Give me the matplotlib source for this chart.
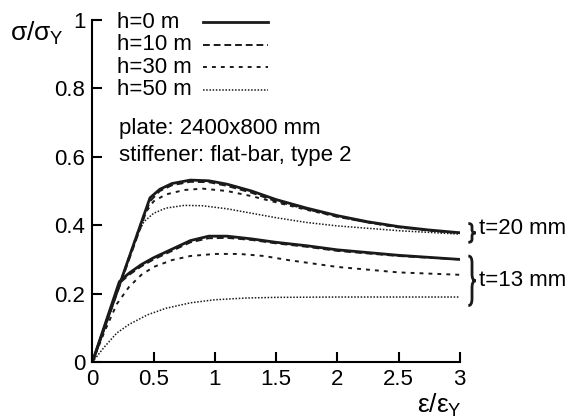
import matplotlib
matplotlib.use('Agg')
import matplotlib.pyplot as plt
from matplotlib.path import Path
from matplotlib.patches import PathPatch
from matplotlib.ticker import FormatStrFormatter

plt.rcParams['font.family'] = ['Liberation Sans', 'DejaVu Sans']
plt.rcParams['mathtext.fontset'] = 'custom'
plt.rcParams['mathtext.rm'] = 'Liberation Sans'
plt.rcParams['mathtext.it'] = 'Liberation Sans'

# ============================================================
# DATA
# ============================================================

labels = ['h=0 m', 'h=10 m', 'h=30 m', 'h=50 m']

# t = 20 mm
t20_h0_x = [0, 0.47, 0.55, 0.65, 0.8, 0.95, 1.1, 1.3, 1.5, 1.75, 2.0, 2.25, 2.5, 2.75, 3.0]
t20_h0_y = [0, 0.48, 0.505, 0.522, 0.532, 0.53, 0.52, 0.50, 0.475, 0.45, 0.428, 0.41, 0.396, 0.386, 0.378]
t20_h10_x = t20_h0_x
t20_h10_y = [0, 0.47, 0.50, 0.517, 0.527, 0.526, 0.515, 0.495, 0.47, 0.447, 0.425, 0.408, 0.394, 0.385, 0.378]
t20_h30_x = [0, 0.42, 0.5, 0.6, 0.75, 0.9, 1.1, 1.3, 1.5, 1.75, 2.0, 2.25, 2.5, 2.75, 3.0]
t20_h30_y = [0, 0.43, 0.47, 0.49, 0.503, 0.507, 0.50, 0.485, 0.467, 0.445, 0.425, 0.408, 0.394, 0.384, 0.377]
t20_h50_x = [0, 0.35, 0.42, 0.5, 0.6, 0.75, 0.9, 1.1, 1.3, 1.5, 1.75, 2.0, 2.5, 3.0]
t20_h50_y = [0, 0.36, 0.41, 0.435, 0.45, 0.458, 0.457, 0.448, 0.435, 0.422, 0.408, 0.398, 0.384, 0.374]

# t = 13 mm
t13_h0_x = [0, 0.22, 0.3, 0.4, 0.5, 0.65, 0.8, 0.95, 1.1, 1.3, 1.5, 1.75, 2.0, 2.5, 3.0]
t13_h0_y = [0, 0.235, 0.26, 0.285, 0.305, 0.33, 0.355, 0.368, 0.368, 0.36, 0.35, 0.34, 0.328, 0.312, 0.30]
t13_h10_x = t13_h0_x
t13_h10_y = [0, 0.23, 0.255, 0.28, 0.30, 0.325, 0.35, 0.362, 0.363, 0.357, 0.347, 0.337, 0.325, 0.31, 0.30]
t13_h30_x = [0, 0.1, 0.2, 0.3, 0.4, 0.5, 0.65, 0.8, 1.0, 1.2, 1.4, 1.6, 2.0, 2.5, 3.0]
t13_h30_y = [0, 0.09, 0.17, 0.22, 0.255, 0.278, 0.298, 0.31, 0.316, 0.316, 0.31, 0.298, 0.278, 0.262, 0.255]
t13_h50_x = [0, 0.1, 0.2, 0.3, 0.45, 0.6, 0.8, 1.0, 1.25, 1.5, 2.0, 2.5, 3.0]
t13_h50_y = [0, 0.045, 0.085, 0.11, 0.138, 0.157, 0.173, 0.182, 0.187, 0.189, 0.19, 0.19, 0.19]

xticks = [0, 0.5, 1, 1.5, 2, 2.5, 3]
yticks = [0, 0.2, 0.4, 0.6, 0.8, 1]

# bracket spans (y range) for each thickness group
t20_span = (0.35, 0.405)
t13_span = (0.165, 0.31)

# ============================================================
# PLOT
# ============================================================

col = '#1a1a1a'
fs = 16
styles = [
    dict(ls='-', lw=2.0),
    dict(ls=(0, (3.5, 2)), lw=1.4),
    dict(ls=(0, (2, 2.6)), lw=1.4),
    dict(ls=(0, (1, 1.1)), lw=1.1),
]

fig = plt.figure(figsize=(5.74, 4.18), dpi=100)
ax = fig.add_axes([0.161, 0.134, 0.640, 0.818])

t20 = [(t20_h0_x, t20_h0_y), (t20_h10_x, t20_h10_y), (t20_h30_x, t20_h30_y), (t20_h50_x, t20_h50_y)]
t13 = [(t13_h0_x, t13_h0_y), (t13_h10_x, t13_h10_y), (t13_h30_x, t13_h30_y), (t13_h50_x, t13_h50_y)]

for (x, y), st in zip(t20, styles):
    ax.plot(x, y, color=col, **st)
for (x, y), st in zip(t13, styles):
    ax.plot(x, y, color=col, **st)

ax.set_xlim(0, 3)
ax.set_ylim(0, 1)
ax.set_xticks(xticks)
ax.set_yticks(yticks)
ax.xaxis.set_major_formatter(FormatStrFormatter('%g'))
ax.yaxis.set_major_formatter(FormatStrFormatter('%g'))
ax.tick_params(direction='in', length=7, width=1.5, labelsize=fs, pad=5)
for s in ['top', 'right']:
    ax.spines[s].set_visible(False)
for s in ['left', 'bottom']:
    ax.spines[s].set_linewidth(1.5)

# legend: label first, sample line after it, all lines ending at the same x
fig.canvas.draw()
rend = fig.canvas.get_renderer()
inv = ax.transAxes.inverted()
row_y = 0.994
for lab, st in zip(labels, styles):
    t = ax.text(0.068, row_y, lab, fontsize=fs, va='center', transform=ax.transAxes)
    x_end_text = inv.transform(t.get_window_extent(rend))[1][0]
    x_start = max(x_end_text + 0.012, 0.3)
    ax.plot([x_start, 0.478], [row_y, row_y], color=col,
            transform=ax.transAxes, clip_on=False, **st)
    row_y -= 0.066

ax.text(0.22, 0.684, 'plate: 2400x800 mm', fontsize=fs, va='center')
ax.text(0.22, 0.605, 'stiffener: flat-bar, type 2', fontsize=fs, va='center')


# curly braces for the thickness groups
def brace(ax, x, y0, y1, w):
    ym = (y0 + y1) / 2
    r = min(0.02, (y1 - y0) / 6)
    verts = [(x, y1), (x + w / 2, y1), (x + w / 2, y1 - r),
             (x + w / 2, ym + r),
             (x + w / 2, ym), (x + w, ym),
             (x + w / 2, ym), (x + w / 2, ym - r),
             (x + w / 2, y0 + r),
             (x + w / 2, y0), (x, y0)]
    codes = [Path.MOVETO, Path.CURVE3, Path.CURVE3,
             Path.LINETO,
             Path.CURVE3, Path.CURVE3,
             Path.CURVE3, Path.CURVE3,
             Path.LINETO,
             Path.CURVE3, Path.CURVE3]
    ax.add_patch(PathPatch(Path(verts, codes), fc='none', ec=col, lw=2.0,
                           clip_on=False))


brace(ax, 3.07, t20_span[0], t20_span[1], 0.06)
brace(ax, 3.07, t13_span[0], t13_span[1], 0.06)
ax.text(3.16, 0.39, 't=20 mm', fontsize=fs, va='center', ha='left', clip_on=False)
ax.text(3.16, 0.238, 't=13 mm', fontsize=fs, va='center', ha='left', clip_on=False)

fig.text(0.017, 0.92, r'$\sigma/\sigma_{\mathrm{Y}}$', fontsize=19, va='center')
fig.text(0.726, 0.031, r'$\varepsilon/\varepsilon_{\mathrm{Y}}$', fontsize=19, va='center')

fig.savefig('out.png', dpi=100)
